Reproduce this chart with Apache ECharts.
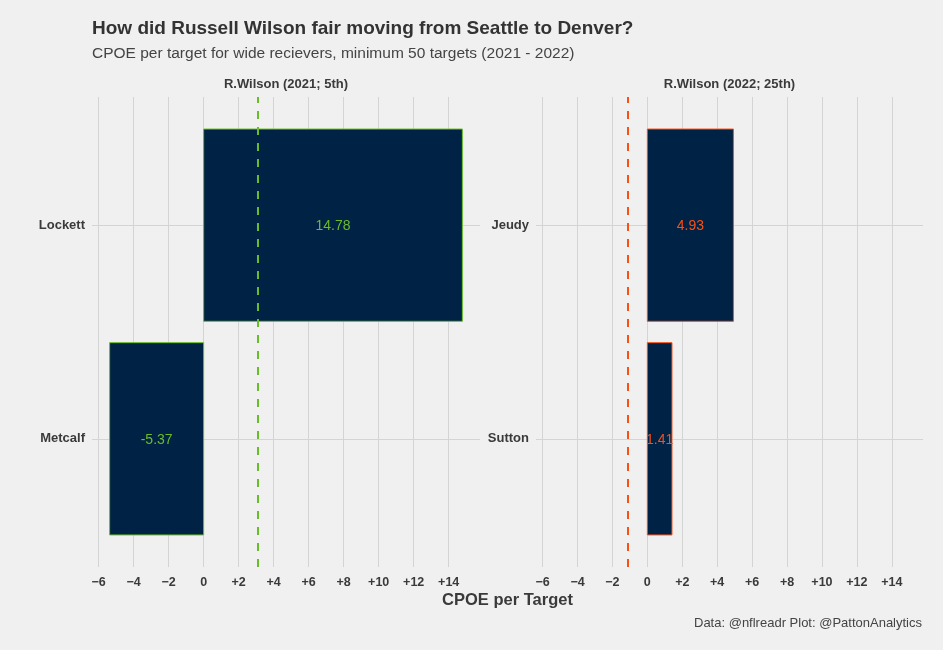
<!DOCTYPE html>
<html>
<head>
<meta charset="utf-8">
<script src="https://cdn.jsdelivr.net/npm/echarts@6/dist/echarts.min.js"></script>
<style>
html,body{margin:0;padding:0;background:#f0f0f0;}
#c{width:943px;height:650px;}
</style>
</head>
<body>
<div id="c"></div>
<script>
// ---- data ----
const players2021 = ['Metcalf', 'Lockett'];
const cpoe2021 = [-5.37, 14.78];
const players2022 = ['Sutton', 'Jeudy'];
const cpoe2022 = [1.41, 4.93];
const wilsonCpoe = [3.11, -1.12];
const panelTitles = ['R.Wilson (2021; 5th)', 'R.Wilson (2022; 25th)'];
const xTicks = [-6, -4, -2, 0, 2, 4, 6, 8, 10, 12, 14];
const teamColors = ['#69BE28', '#FB4F14'];
const barFill = '#002244';

const FONT = '"Liberation Sans", Arial, sans-serif';
const TXT = '#3a3a3a';
const GRIDC = '#d4d4d4';

function fmtX(v) {
  if (v < 0) return '\u2212' + Math.abs(v);
  if (v > 0) return '+' + v;
  return '0';
}

const panels = [
  {names: players2021, vals: cpoe2021},
  {names: players2022, vals: cpoe2022}
];

const grids = [
  {left: 92, width: 388, top: 97, height: 470},
  {left: 536, width: 387, top: 97, height: 470}
];

const xAxes = grids.map((g, i) => ({
  type: 'value', gridIndex: i, min: -6.3775, max: 15.7875,
  axisLine: {show: false},
  axisTick: {show: false, customValues: xTicks},
  axisLabel: {customValues: xTicks, formatter: fmtX, color: TXT, fontFamily: FONT,
              fontWeight: 'bold', fontSize: 12.5, margin: 9},
  splitLine: {show: true, lineStyle: {color: GRIDC, width: 1}}
}));

const yAxes = panels.map((p, i) => ({
  type: 'value', gridIndex: i, min: 0.4, max: 2.6,
  axisLine: {show: false},
  axisTick: {show: false, customValues: [1, 2]},
  axisLabel: {customValues: [1, 2], formatter: v => p.names[Math.round(v) - 1],
              color: TXT, fontFamily: FONT, fontWeight: 'bold', fontSize: 13, margin: 7},
  splitLine: {show: true, lineStyle: {color: GRIDC, width: 1}}
}));

const series = panels.map((p, i) => ({
  type: 'custom',
  xAxisIndex: i, yAxisIndex: i,
  data: p.vals.map((v, k) => [v, k + 1]),
  renderItem: function (params, api) {
    const v = api.value(0), y = api.value(1);
    const a = api.coord([0, y + 0.45]);
    const b = api.coord([v, y - 0.45]);
    const x0 = Math.min(a[0], b[0]), x1 = Math.max(a[0], b[0]);
    const c = api.coord([v / 2, y]);
    return {
      type: 'group',
      children: [
        {type: 'rect', shape: {x: x0, y: a[1], width: x1 - x0, height: b[1] - a[1]},
         style: {fill: barFill, stroke: teamColors[i], lineWidth: 1}},
        {type: 'text', x: c[0], y: c[1] + 1,
         style: {text: String(v), fill: teamColors[i], font: '14px ' + FONT,
                 align: 'center', verticalAlign: 'middle'}}
      ]
    };
  },
  markLine: {
    silent: true, symbol: 'none',
    label: {show: false},
    lineStyle: {color: teamColors[i], type: [8, 8], width: 2},
    data: [{xAxis: wilsonCpoe[i]}]
  }
}));

const titles = [
  {text: 'How did Russell Wilson fair moving from Seattle to Denver?', left: 92, top: 19,
   textStyle: {fontFamily: FONT, fontSize: 19, fontWeight: 'bold', color: '#333333'}},
  {text: 'CPOE per target for wide recievers, minimum 50 targets (2021 - 2022)', left: 92, top: 46,
   textStyle: {fontFamily: FONT, fontSize: 15.5, fontWeight: 'normal', color: '#444444'}},
  {text: panelTitles[0], left: 286, top: 78, textAlign: 'center',
   textStyle: {fontFamily: FONT, fontSize: 13, fontWeight: 'bold', color: TXT}},
  {text: panelTitles[1], left: 729.5, top: 78, textAlign: 'center',
   textStyle: {fontFamily: FONT, fontSize: 13, fontWeight: 'bold', color: TXT}},
  {text: 'CPOE per Target', left: 507.5, top: 592, textAlign: 'center',
   textStyle: {fontFamily: FONT, fontSize: 16.5, fontWeight: 'bold', color: TXT}},
  {text: 'Data: @nflreadr Plot: @PattonAnalytics', right: 21, top: 617,
   textStyle: {fontFamily: FONT, fontSize: 13, fontWeight: 'normal', color: '#444444'}}
];
titles.forEach(t => { t.padding = 0; });

const chart = echarts.init(document.getElementById('c'), null, {renderer: 'canvas'});
chart.setOption({
  backgroundColor: '#f0f0f0',
  animation: false,
  title: titles,
  grid: grids,
  xAxis: xAxes,
  yAxis: yAxes,
  series: series
});
</script>
</body>
</html>
